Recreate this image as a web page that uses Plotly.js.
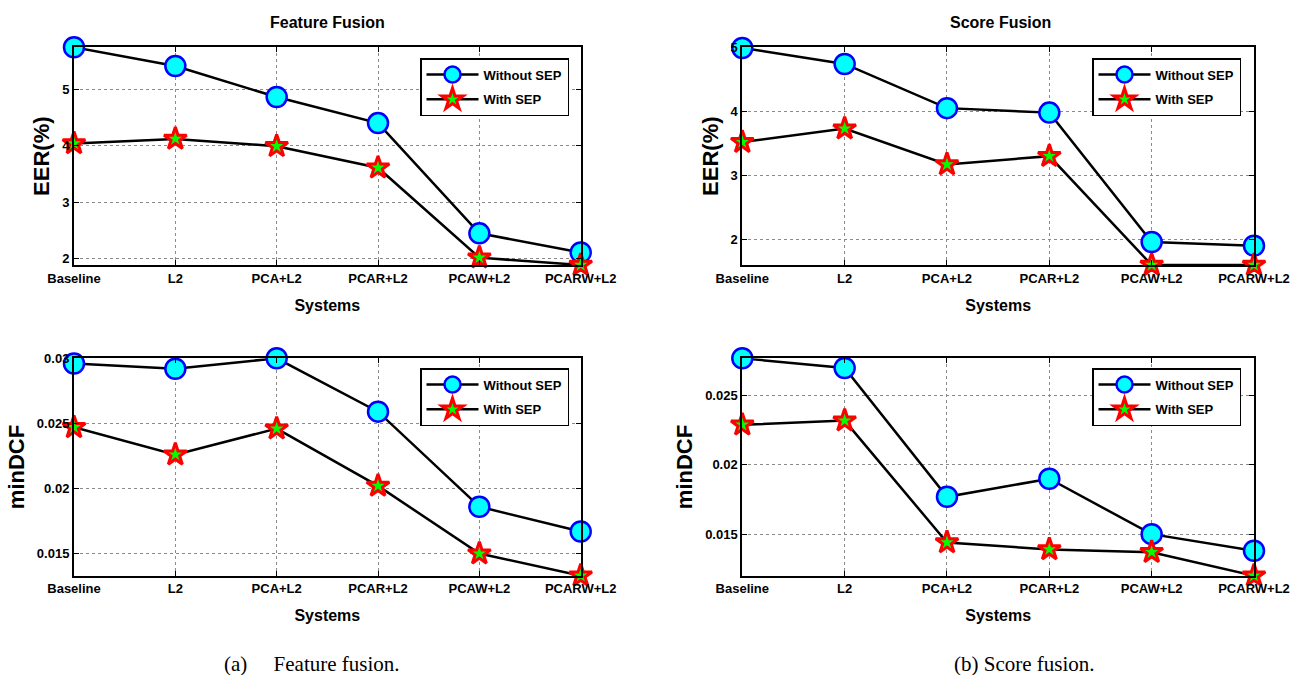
<!DOCTYPE html>
<html>
<head>
<meta charset="utf-8">
<script src="https://cdn.plot.ly/plotly-3.0.1.min.js"></script>
<style>html,body{margin:0;padding:0;background:#fff;}#chart{width:1293px;height:675px;}</style>
</head>
<body>
<div id="chart"></div>
<script>
const categories = ['Baseline', 'L2', 'PCA+L2', 'PCAR+L2', 'PCAW+L2', 'PCARW+L2'];
const seriesNames = ['Without SEP', 'With SEP'];
const featEerWithout = [5.74, 5.41, 4.86, 4.40, 2.45, 2.11];
const featEerWith    = [4.04, 4.12, 3.99, 3.61, 2.02, 1.89];
const scoreEerWithout = [4.99, 4.74, 4.05, 3.98, 1.96, 1.90];
const scoreEerWith    = [3.52, 3.73, 3.17, 3.30, 1.60, 1.60];
const featDcfWithout = [0.0296, 0.0292, 0.0300, 0.0259, 0.0186, 0.0167];
const featDcfWith    = [0.0247, 0.0226, 0.0246, 0.0202, 0.0150, 0.0133];
const scoreDcfWithout = [0.0277, 0.0270, 0.0177, 0.0190, 0.0150, 0.0138];
const scoreDcfWith    = [0.0229, 0.0232, 0.0144, 0.0139, 0.0137, 0.0120];
const panelTitles = ['Feature Fusion', 'Score Fusion'];
const xTitle = 'Systems';
const yTitles = ['EER(%)', 'minDCF'];
const captions = ['(a)\u00a0\u00a0\u00a0\u00a0\u00a0Feature fusion.', '(b) Score fusion.'];

const W = 1293, H = 675;
const SANS = '"Liberation Sans", Arial, Helvetica, sans-serif';
const SERIF = '"Liberation Serif", "Times New Roman", serif';

const panels = [
  {xa: 'x', ya: 'y', leg: 'legend', data: [featEerWithout, featEerWith]},
  {xa: 'x2', ya: 'y2', leg: 'legend2', data: [scoreEerWithout, scoreEerWith]},
  {xa: 'x3', ya: 'y3', leg: 'legend3', data: [featDcfWithout, featDcfWith]},
  {xa: 'x4', ya: 'y4', leg: 'legend4', data: [scoreDcfWithout, scoreDcfWith]}
];

const markerStyles = [
  {symbol: 'circle', size: 20, color: '#00FFFF', line: {color: '#0000FF', width: 2.5}},
  {symbol: 'star', size: 17, color: '#00FF00', line: {color: '#FF0000', width: 3}}
];

const traces = [];
panels.forEach((p, k) => {
  p.data.forEach((vals, i) => {
    traces.push({
      type: 'scatter', mode: 'lines+markers',
      x: categories, y: vals, name: seriesNames[i],
      xaxis: p.xa, yaxis: p.ya, legend: p.leg,
      legendgroup: 'g' + k + '_' + i,
      line: {color: '#000', width: 2.5},
      marker: markerStyles[i],
      cliponaxis: false
    });
  });
});

function px(v) { return v / W; }
function py(v) { return 1 - v / H; }

const xDomL = [px(74), px(580.7)];
const xDomR = [px(742.3), px(1254)];
const yDomT = [py(265), py(47.3)];
const yDomB = [py(575.7), py(358.3)];

function xAxis(domain, anchor) {
  return {
    domain: domain, anchor: anchor, type: 'category', range: [0, 5],
    showline: true, linecolor: '#000', linewidth: 2, mirror: 'allticks',
    ticks: 'inside', ticklen: 5, tickcolor: '#000', tickwidth: 1,
    showgrid: true, gridcolor: '#8a8a8a', griddash: 'dot', gridwidth: 1,
    tickfont: {family: SANS, size: 13, color: '#000', weight: 'bold'},
    title: {text: xTitle, font: {family: SANS, size: 16, color: '#000', weight: 'bold'}, standoff: 15},
    zeroline: false
  };
}
function yAxis(domain, anchor, range, dtick, title) {
  return {
    domain: domain, anchor: anchor, range: range, dtick: dtick,
    showline: true, linecolor: '#000', linewidth: 2, mirror: 'allticks',
    ticks: 'inside', ticklen: 5, tickcolor: '#000', tickwidth: 1,
    showgrid: true, gridcolor: '#8a8a8a', griddash: 'dot', gridwidth: 1,
    tickfont: {family: SANS, size: 13, color: '#000', weight: 'bold'},
    title: {text: title, font: {family: SANS, size: 22, color: '#000', weight: 'bold'}, standoff: 6},
    zeroline: false
  };
}

function legendAt(x, y) {
  return {
    x: px(x), y: py(y), xanchor: 'left', yanchor: 'top',
    xref: 'paper', yref: 'paper',
    bgcolor: '#fff', bordercolor: '#000', borderwidth: 1.5,
    font: {family: SANS, size: 13, color: '#000', weight: 'bold'},
    itemwidth: 52, tracegroupgap: 5, traceorder: 'grouped'
  };
}

const layout = {
  width: W, height: H,
  margin: {l: 0, r: 0, t: 0, b: 0},
  paper_bgcolor: '#fff', plot_bgcolor: '#fff',
  showlegend: true,
  xaxis: xAxis(xDomL, 'y'),
  yaxis: yAxis(yDomT, 'x', [1.89, 5.74], 1, yTitles[0]),
  xaxis2: xAxis(xDomR, 'y2'),
  yaxis2: yAxis(yDomT, 'x2', [1.6, 5.0], 1, yTitles[0]),
  xaxis3: xAxis(xDomL, 'y3'),
  yaxis3: yAxis(yDomB, 'x3', [0.0133, 0.0300], 0.005, yTitles[1]),
  xaxis4: xAxis(xDomR, 'y4'),
  yaxis4: yAxis(yDomB, 'x4', [0.0120, 0.0277], 0.005, yTitles[1]),
  legend: legendAt(420, 58),
  legend2: legendAt(1092, 58),
  legend3: legendAt(420, 368),
  legend4: legendAt(1092, 368),
  annotations: [
    {text: panelTitles[0], x: px(327.5), y: py(22), xref: 'paper', yref: 'paper', showarrow: false,
     xanchor: 'center', yanchor: 'middle', font: {family: SANS, size: 16, color: '#000', weight: 'bold'}},
    {text: panelTitles[1], x: px(1000), y: py(22), xref: 'paper', yref: 'paper', showarrow: false,
     xanchor: 'center', yanchor: 'middle', font: {family: SANS, size: 16, color: '#000', weight: 'bold'}},
    {text: captions[0], x: px(222), y: py(664), xref: 'paper', yref: 'paper', showarrow: false,
     xanchor: 'left', yanchor: 'middle', font: {family: SERIF, size: 21, color: '#000'}},
    {text: captions[1], x: px(952), y: py(664), xref: 'paper', yref: 'paper', showarrow: false,
     xanchor: 'left', yanchor: 'middle', font: {family: SERIF, size: 21, color: '#000'}}
  ]
};

Plotly.newPlot('chart', traces, layout, {displayModeBar: false, staticPlot: true});
</script>
</body>
</html>
